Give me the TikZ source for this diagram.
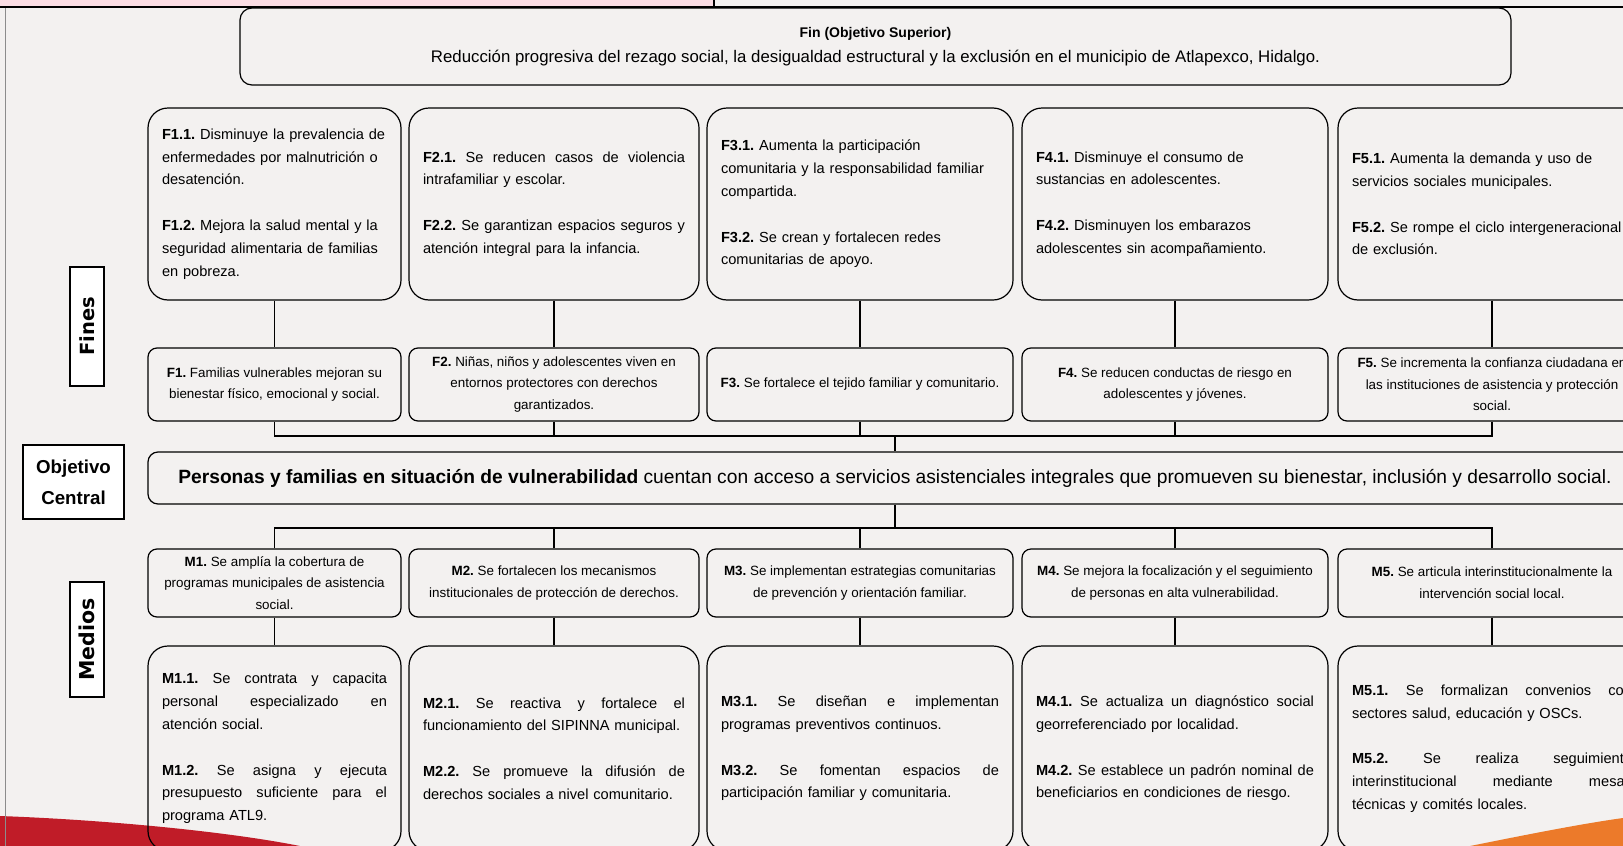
\documentclass[tikz,border=0pt]{standalone}
\usepackage{fontspec}
\setmainfont{Liberation Sans}
\newfontfamily\heavyfont{DejaVu Sans}
\usetikzlibrary{positioning}
\frenchspacing

\definecolor{paper}{RGB}{243,241,240}
\definecolor{headpink}{RGB}{251,221,228}
\definecolor{swred}{RGB}{192,28,40}
\definecolor{sworange}{RGB}{236,122,42}

\newcommand{\spread}[1]{\makebox[\linewidth][s]{\spaceskip=.3333em plus 1fil\relax#1}}
\newcommand{\gap}{\\[\baselineskip]}

\begin{document}
\begin{tikzpicture}[x=1pt,y=-1pt,
    every node/.style={inner sep=0pt},
    bigbox/.style={draw, line width=1.2pt, rounded corners=20pt, text width=#1,
        inner xsep=14pt, minimum height=192pt, align=left,
        font=\fontsize{14.6}{22.8}\selectfont},
    sumbox/.style={draw, line width=1.2pt, rounded corners=9pt, minimum width=#1,
        minimum height=73pt, align=center, font=\fontsize{13.4}{21.7}\selectfont},
    tag/.style={draw, line width=1.6pt, fill=white},
    link/.style={line width=1.3pt},
    bar/.style={line width=2pt}]

    \clip (0,0) rectangle (1623,846);
    \fill[paper] (0,0) rectangle (1623,846);
    \fill[swred] (0,816) .. controls (110,820) and (230,832) .. (300,846) -- (0,846) -- cycle;
    \fill[sworange] (1470,846) .. controls (1530,834) and (1580,824) .. (1623,818) -- (1623,846) -- cycle;
    \fill[headpink] (0,0) rectangle (714,6);
    \draw[line width=1.2pt] (714,0) -- (714,7);
    \draw[line width=2.5pt] (0,7) -- (1623,7);
    \draw[black!45, line width=0.8pt] (5.5,8) -- (5.5,846);

    \node[draw, line width=1.2pt, rounded corners=12pt, minimum width=1271pt, minimum height=77pt,
          align=center, font=\fontsize{16.8}{25}\selectfont] (fin) at (875.5,46.5)
        {{\fontsize{14}{25}\selectfont\bfseries Fin (Objetivo Superior)}\\
         Reducción progresiva del rezago social, la desigualdad estructural y la exclusión en el municipio de Atlapexco, Hidalgo.};

    \node[bigbox=225pt] (f1d) at (274.5,204)
        {\textbf{F1.1.} Disminuye la prevalencia de\\ enfermedades por malnutrición o\\ desatención.\gap
         \textbf{F1.2.} Mejora la salud mental y la\\ seguridad alimentaria de familias\\ en pobreza.};
    \node[bigbox=262pt] (f2d) at (554,204)
        {\spread{\textbf{F2.1.} Se reducen casos de violencia}\\ intrafamiliar y escolar.\gap
         \spread{\textbf{F2.2.} Se garantizan espacios seguros y}\\ atención integral para la infancia.};
    \node[bigbox=278pt] (f3d) at (860,204)
        {\textbf{F3.1.} Aumenta la participación\\ comunitaria y la responsabilidad familiar\\ compartida.\gap
         \textbf{F3.2.} Se crean y fortalecen redes\\ comunitarias de apoyo.};
    \node[bigbox=278pt] (f4d) at (1175,204)
        {\textbf{F4.1.} Disminuye el consumo de\\ sustancias en adolescentes.\gap
         \textbf{F4.2.} Disminuyen los embarazos\\ adolescentes sin acompañamiento.};
    \node[bigbox=280pt] (f5d) at (1492,204)
        {\textbf{F5.1.} Aumenta la demanda y uso de\\ servicios sociales municipales.\gap
         \textbf{F5.2.} Se rompe el ciclo intergeneracional\\ de exclusión.};

    \node[sumbox=253pt] (f1s) at (274.5,384.5)
        {\textbf{F1.} Familias vulnerables mejoran su\\ bienestar físico, emocional y social.};
    \node[sumbox=290pt] (f2s) at (554,384.5)
        {\textbf{F2.} Niñas, niños y adolescentes viven en\\ entornos protectores con derechos\\ garantizados.};
    \node[sumbox=306pt] (f3s) at (860,384.5)
        {\textbf{F3.} Se fortalece el tejido familiar y comunitario.};
    \node[sumbox=306pt] (f4s) at (1175,384.5)
        {\textbf{F4.} Se reducen conductas de riesgo en\\ adolescentes y jóvenes.};
    \node[sumbox=308pt] (f5s) at (1492,384.5)
        {\textbf{F5.} Se incrementa la confianza ciudadana en\\ las instituciones de asistencia y protección\\ social.};

    \node[draw, line width=1.2pt, rounded corners=10pt, minimum width=1494pt, minimum height=52pt,
          font=\fontsize{19.2}{23}\selectfont] (obj) at (895,478)
        {\textbf{Personas y familias en situación de vulnerabilidad} cuentan con acceso a servicios asistenciales integrales que promueven su bienestar, inclusión y desarrollo social.};

    \node[sumbox=253pt, minimum height=68pt] (m1s) at (274.5,583)
        {\textbf{M1.} Se amplía la cobertura de\\ programas municipales de asistencia\\ social.};
    \node[sumbox=290pt, minimum height=68pt] (m2s) at (554,583)
        {\textbf{M2.} Se fortalecen los mecanismos\\ institucionales de protección de derechos.};
    \node[sumbox=306pt, minimum height=68pt] (m3s) at (860,583)
        {\textbf{M3.} Se implementan estrategias comunitarias\\ de prevención y orientación familiar.};
    \node[sumbox=306pt, minimum height=68pt] (m4s) at (1175,583)
        {\textbf{M4.} Se mejora la focalización y el seguimiento\\ de personas en alta vulnerabilidad.};
    \node[sumbox=308pt, minimum height=68pt] (m5s) at (1492,583)
        {\textbf{M5.} Se articula interinstitucionalmente la\\ intervención social local.};

    \node[bigbox=225pt, minimum height=205pt] (m1d) at (274.5,748.5)
        {\spread{\textbf{M1.1.} Se contrata y capacita}\\ \spread{personal especializado en}\\ atención social.\gap
         \spread{\textbf{M1.2.} Se asigna y ejecuta}\\ \spread{presupuesto suficiente para el}\\ programa ATL9.};
    \node[bigbox=262pt, minimum height=205pt] (m2d) at (554,748.5)
        {\spread{\textbf{M2.1.} Se reactiva y fortalece el}\\ funcionamiento del SIPINNA municipal.\gap
         \spread{\textbf{M2.2.} Se promueve la difusión de}\\ derechos sociales a nivel comunitario.};
    \node[bigbox=278pt, minimum height=205pt] (m3d) at (860,748.5)
        {\spread{\textbf{M3.1.} Se diseñan e implementan}\\ programas preventivos continuos.\gap
         \spread{\textbf{M3.2.} Se fomentan espacios de}\\ participación familiar y comunitaria.};
    \node[bigbox=278pt, minimum height=205pt] (m4d) at (1175,748.5)
        {\spread{\textbf{M4.1.} Se actualiza un diagnóstico social}\\ georreferenciado por localidad.\gap
         \spread{\textbf{M4.2.} Se establece un padrón nominal de}\\ beneficiarios en condiciones de riesgo.};
    \node[bigbox=280pt, minimum height=205pt] (m5d) at (1492,748.5)
        {\spread{\textbf{M5.1.} Se formalizan convenios con}\\ sectores salud, educación y OSCs.\gap
         \spread{\textbf{M5.2.} Se realiza seguimiento}\\ \spread{interinstitucional mediante mesas}\\ técnicas y comités locales.};

    \node[tag, rotate=90, minimum width=119pt, minimum height=34pt,
          font=\heavyfont\bfseries\fontsize{19.5}{19.5}\selectfont] (fines) at (87,326.5) {Fines};
    \node[tag, rotate=90, minimum width=115pt, minimum height=34pt,
          font=\heavyfont\bfseries\fontsize{20.5}{20.5}\selectfont] (medios) at (87,639.5) {Medios};
    \node[tag, minimum width=101pt, minimum height=74pt, align=center,
          font=\bfseries\fontsize{18.7}{31}\selectfont] (central) at (73.5,482) {Objetivo\\ Central};

    \coordinate (fhub) at (895,436);
    \coordinate (mhub) at (895,528);
    \foreach \c in {1,...,5} {
        \draw[link] (f\c d) -- (f\c s);
        \draw[link] (f\c s.south) |- (fhub);
        \draw[link] (m\c s.north) |- (mhub);
        \draw[link] (m\c s) -- (m\c d);
    }
    \draw[bar] (f1s.south |- fhub) -- (f5s.south |- fhub);
    \draw[bar] (m1s.north |- mhub) -- (m5s.north |- mhub);
    \draw[link] (fhub) -- (obj);
    \draw[link] (obj) -- (mhub);
\end{tikzpicture}
\end{document}
